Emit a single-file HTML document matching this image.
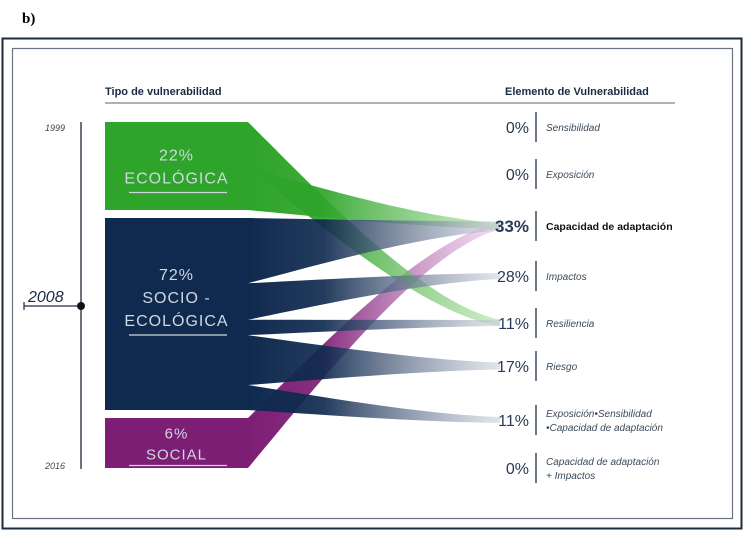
<!DOCTYPE html>
<html><head><meta charset="utf-8"><style>
html,body{margin:0;padding:0;background:#fff;}
svg{display:block;font-family:"Liberation Sans",sans-serif;}
</style></head><body>
<svg id="chart" width="746" height="533" viewBox="0 0 746 533">
<text x="22" y="23" font-family="Liberation Serif" font-weight="bold" font-size="15" fill="#000">b)</text>
<rect x="2.5" y="38.5" width="739" height="490" fill="none" stroke="#1d2b3a" stroke-width="2"/>
<rect x="12.5" y="48.5" width="720" height="470" fill="none" stroke="#6a7480" stroke-width="1.2"/>
<text x="105" y="95" font-weight="bold" font-size="11" fill="#1a2a40">Tipo de vulnerabilidad</text>
<text x="505" y="95" font-weight="bold" font-size="11" fill="#1a2a40">Elemento de Vulnerabilidad</text>
<line x1="105" y1="103" x2="675" y2="103" stroke="#5a6470" stroke-width="1"/>
<line x1="81" y1="122" x2="81" y2="469" stroke="#3a4554" stroke-width="1.5"/>
<text x="45" y="131" font-size="9" font-style="italic" fill="#444">1999</text>
<text x="45" y="469" font-size="9" font-style="italic" fill="#444">2016</text>
<text x="28" y="302" font-size="16" font-style="italic" fill="#1a2a40">2008</text>
<line x1="24" y1="306" x2="81" y2="306" stroke="#1a2a40" stroke-width="1.2"/>
<line x1="24" y1="302" x2="24" y2="310" stroke="#1a2a40" stroke-width="1.2"/>
<circle cx="81" cy="306" r="4" fill="#111"/>
<defs id="defs"></defs>
<g id="flows"></g><g id="blocks"></g><g id="targets"></g>
</svg>
<script>
const sourceNames = ["ECOLÓGICA", "SOCIO -|ECOLÓGICA", "SOCIAL"];
const sourceValues = [22, 72, 6];
const targetLabels = ["Sensibilidad","Exposición","Capacidad de adaptación","Impactos","Resiliencia","Riesgo","Exposición•Sensibilidad|•Capacidad de adaptación","Capacidad de adaptación|+ Impactos"];
const targetValues = [0, 0, 33, 28, 11, 17, 11, 0];
const flowSource = [0, 0, 1, 1, 1, 1, 1, 2];
const flowTarget = [4, 2, 2, 3, 4, 5, 6, 2];
const flowShare = [0.52, 0.48, 0.34, 0.19, 0.08, 0.26, 0.13, 1.0];

const NS = "http://www.w3.org/2000/svg";
const colors = ["#2ea42a", "#102a4f", "#7d1e75"];
const light = ["#a6dc9c", "#c9cedb", "#ecc4e9"];
const blockX0 = 105, blockX1 = 248, targetX = 500;
const blockTops = [122, 218, 418], blockBottoms = [210, 410, 468];
const targetY = [127, 174, 226, 276, 323, 366, 420, 468];
function mk(tag, attrs, parent){const e=document.createElementNS(NS,tag);for(const k in attrs)e.setAttribute(k,attrs[k]);parent.appendChild(e);return e;}
const defs=document.getElementById('defs'), flowsG=document.getElementById('flows'), blocksG=document.getElementById('blocks'), targetsG=document.getElementById('targets');
function ySrc(i,f){return blockTops[i]+(blockBottoms[i]-blockTops[i])*f;}
function edge(xa,ya,xb,yb){
  const dx=xb-xa, dy=yb-ya;
  return [xa+dx*0.3, ya+dy*0.38, xa+dx*0.7, ya+dy*0.92];
}

const cum=[0,0,0];
const order=[7,0,1,2,3,4,5,6];
const paths=[];
flowSource.forEach((s,k)=>{
  const f0=cum[s], f1=cum[s]+flowShare[k]; cum[s]=f1;
  const s0=ySrc(s,f0), s1=ySrc(s,f1);
  const ty=targetY[flowTarget[k]], hw=Math.max(3, (s1-s0)*0.07);
  const t0=ty-hw, t1=ty+hw;
  const a=edge(blockX1,s0,targetX,t0), b=edge(blockX1,s1,targetX,t1);
  const g=mk('linearGradient',{id:'g'+k,x1:'0',x2:'1',y1:'0',y2:'0'},defs);
  mk('stop',{offset:'0',"stop-color":colors[s]},g);
  mk('stop',{offset:'0.3',"stop-color":colors[s],"stop-opacity":"0.92"},g);
  mk('stop',{offset:'1',"stop-color":light[s],"stop-opacity":"0.55"},g);
  paths[k]=`M${blockX1},${s0} C${a[0]},${a[1]} ${a[2]},${a[3]} ${targetX},${t0} L${targetX},${t1} C${b[2]},${b[3]} ${b[0]},${b[1]} ${blockX1},${s1} Z`;
});
order.forEach(k=>{
  const p=mk('path',{d:paths[k],fill:'url(#g'+k+')'},flowsG);
  
  
});

sourceNames.forEach((n,i)=>{
  const r=mk('rect',{x:blockX0,y:blockTops[i],width:blockX1-blockX0,height:blockBottoms[i]-blockTops[i],fill:colors[i]},blocksG);
  
  
  const lines=[sourceValues[i]+'%'].concat(n.split('|'));
  const cx=(blockX0+blockX1)/2, lh=i===2?21:23;
  const cy=(blockTops[i]+blockBottoms[i])/2 - (i===1?17:0);
  const y0=cy-(lines.length-1)*lh/2+6;
  lines.forEach((t,j)=>{
    const tx=mk('text',{x:cx,y:y0+j*lh,'text-anchor':'middle','font-size':i===2?15:16,fill:'#cfd8e0','letter-spacing':'1'},blocksG);
    tx.textContent=t;
    
    
  });
  const uy=y0+(lines.length-1)*lh+(i===2?6:9);
  const ul=mk('line',{x1:129,x2:227,y1:uy,y2:uy,stroke:'#cfd8e0','stroke-width':1.2},blocksG);
  
  
});

targetLabels.forEach((lab,i)=>{
  const y=targetY[i], bold=i===2;
  const pv=mk('text',{x:529,y:y+6,'text-anchor':'end','font-size':bold?17:16,'font-weight':bold?'bold':'normal',fill:'#2a3a55'},targetsG);
  pv.textContent=targetValues[i]+'%';
  
  
  const bar=mk('line',{x1:536,x2:536,y1:y-15,y2:y+15,stroke:'#3a4a5a','stroke-width':1.5},targetsG);
  
  
  const parts=lab.split('|');
  parts.forEach((t,j)=>{
    const tx=mk('text',{x:546,y:y+4-(parts.length-1)*7+j*14,'font-size':bold?10.5:10,'font-style':bold?'normal':'italic','font-weight':bold?'bold':'normal',fill:bold?'#111':'#3a4a5a'},targetsG);
    tx.textContent=t;
    
    
  });
});
</script>
</body></html>
